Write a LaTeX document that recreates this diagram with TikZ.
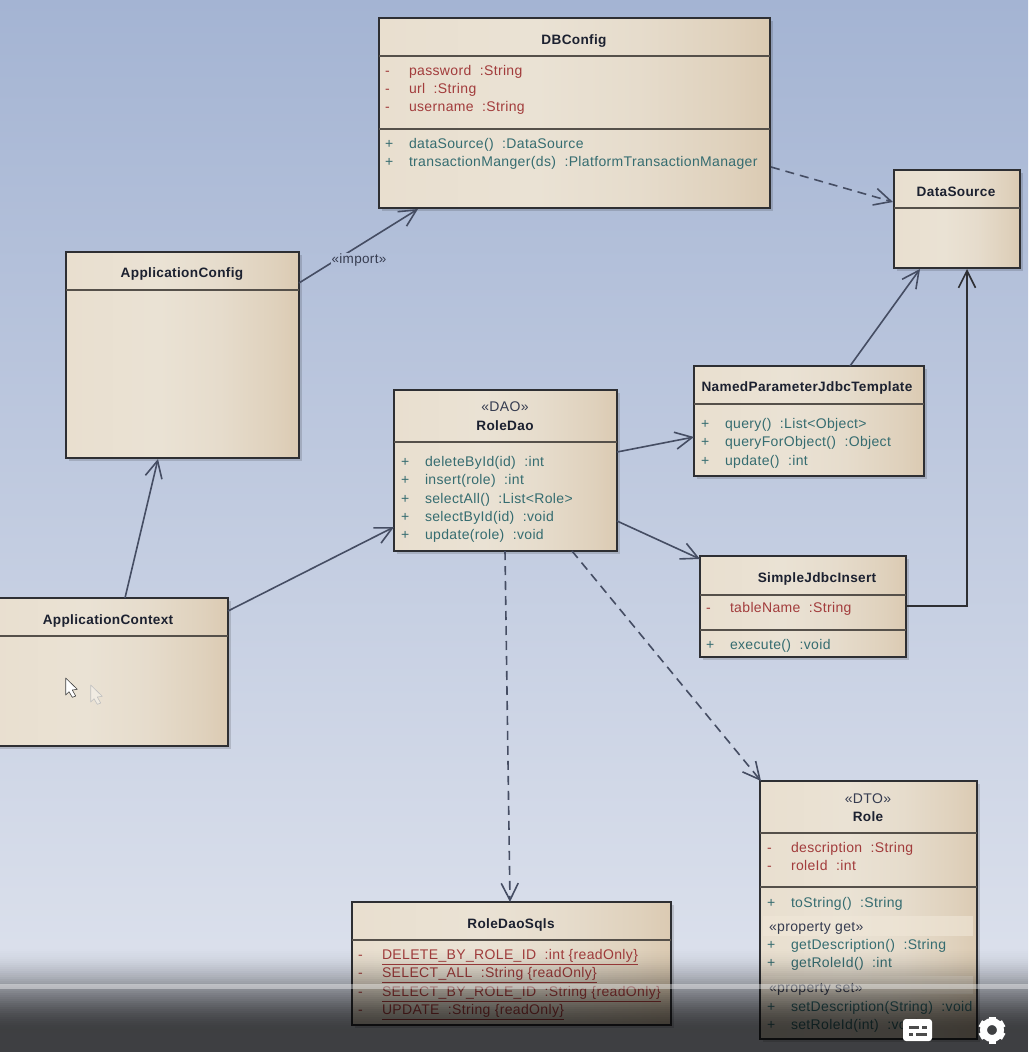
\documentclass[tikz,border=0pt]{standalone}
\usepackage{fontspec}
\setmainfont[LetterSpace=2.5]{Liberation Sans}
\usetikzlibrary{arrows.meta,calc}
\definecolor{bgtop}{HTML}{A4B4D3}
\definecolor{bgbot}{HTML}{E0E4EE}
\definecolor{bgmid}{HTML}{B2BFD9}
\definecolor{boxline}{HTML}{2E2F33}
\definecolor{sepline}{HTML}{55504A}
\definecolor{conn}{HTML}{454D63}
\definecolor{attrc}{HTML}{A23C3C}
\definecolor{methc}{HTML}{356C70}
\definecolor{titlec}{HTML}{1C2130}
\definecolor{stereoc}{HTML}{363C50}
\definecolor{bandc}{HTML}{F0E7D8}
\definecolor{shA}{HTML}{E9DFCF}
\definecolor{shB}{HTML}{EAE2D4}
\definecolor{shC}{HTML}{E6DCCC}
\definecolor{shD}{HTML}{DFD1BC}
\definecolor{shE}{HTML}{DBCAB2}
\pgfdeclarehorizontalshading{boxshade}{100bp}{%
 color(0bp)=(shA); color(25bp)=(shA); color(45bp)=(shB); color(58bp)=(shC); color(70bp)=(shD); color(75bp)=(shE); color(100bp)=(shE)}
\newcounter{rowc}
\tikzset{
 x=1pt,y=-1pt,
 umlbox/.style={draw=boxline,line width=1.2pt,shading=boxshade,anchor=north west,outer sep=0pt,inner sep=0pt},
 boxshadow/.style={fill=black,opacity=.14},
 sepstyle/.style={draw=sepline,line width=1.2pt},
 rowtext/.style={anchor=base west,inner sep=0pt,outer sep=0pt,font=\fontsize{14}{16}\selectfont},
 titletext/.style={anchor=base,inner sep=0pt,font=\fontsize{13.6}{16}\selectfont\bfseries,text=titlec},
 stereotext/.style={anchor=base,inner sep=0pt,font=\fontsize{14}{16}\selectfont,text=stereoc},
 solidconn/.style={draw=conn,line width=1.6pt,-{Straight Barb[length=17pt,width=17pt,line width=1.6pt]}},
 dashconn/.style={solidconn,dash pattern=on 9pt off 6pt},
 elbowconn/.style={solidconn,draw=boxline,line width=1.3pt},
}
\newcommand{\umlclass}[5]{%
 \fill[boxshadow] ({#2+3},{#3+3}) rectangle ({#4+3},{#5+3});
 \node[umlbox,minimum width={(#4-#2)*1pt},minimum height={(#5-#3)*1pt}] (#1) at (#2,#3) {};}
\newcommand{\umlsep}[2]{\draw[sepstyle] (#1.west |- 0,#2) -- (#1.east |- 0,#2);}
\newcommand{\umlrow}[6]{% colour, signx, textx, y, sign, text
 \stepcounter{rowc}%
 \node[rowtext,text=#1] (s\arabic{rowc}) at (#2,{#4+4.5}) {#5};
 \node[rowtext,text=#1] (t\arabic{rowc}) at (#3,{#4+4.5}) {#6};}
\newcommand{\umlplain}[4]{% colour, x, y, text
 \stepcounter{rowc}%
 \node[rowtext,text=#1] (t\arabic{rowc}) at (#2,{#3+4.5}) {#4};}
\newcommand{\umltitle}[4]{\node[titletext] (#1) at (#2,{#3+4.5}) {#4};}
\newcommand{\umlstereo}[4]{\node[stereotext] (#1) at (#2,{#3+4.5}) {#4};}
\newcommand{\ul}[1]{\underline{#1}}
\begin{document}
\begin{tikzpicture}
\useasboundingbox (0,0) rectangle (1028,1052);
\clip (0,0) rectangle (1028,1052);
\fill[top color=bgtop,bottom color=bgbot] (0,0) rectangle (1028,1052);

% boxes
\umlclass{dbconfig}{379}{18}{770}{208}
\umlsep{dbconfig}{56}\umlsep{dbconfig}{129}
\umltitle{dbconfigT}{574}{40}{DBConfig}
\umlrow{attrc}{385}{409}{71}{-}{password\ \ :String}
\umlrow{attrc}{385}{409}{89}{-}{url\ \ :String}
\umlrow{attrc}{385}{409}{107}{-}{username\ \ :String}
\umlrow{methc}{385}{409}{144}{+}{dataSource()\ \ :DataSource}
\umlrow{methc}{385}{409}{162}{+}{transactionManger(ds)\ \ :PlatformTransactionManager}

\umlclass{datasource}{894}{170}{1020}{268}
\umlsep{datasource}{208}
\umltitle{datasourceT}{956}{192}{DataSource}

\umlclass{appconfig}{66}{252}{299}{458}
\umlsep{appconfig}{290}
\umltitle{appconfigT}{182}{273}{ApplicationConfig}

\umlclass{roledao}{394}{390}{617}{551}
\umlsep{roledao}{442}
\umlstereo{roledaoS}{505}{407}{«DAO»}
\umltitle{roledaoT}{505}{426}{RoleDao}
\umlrow{methc}{401}{425}{462}{+}{deleteById(id)\ \ :int}
\umlrow{methc}{401}{425}{480}{+}{insert(role)\ \ :int}
\umlrow{methc}{401}{425}{499}{+}{selectAll()\ \ :List<Role>}
\umlrow{methc}{401}{425}{517}{+}{selectById(id)\ \ :void}
\umlrow{methc}{401}{425}{535}{+}{update(role)\ \ :void}

\umlclass{named}{694}{366}{924}{476}
\umlsep{named}{404}
\umltitle{namedT}{807}{387}{NamedParameterJdbcTemplate}
\umlrow{methc}{701}{725}{424}{+}{query()\ \ :List<Object>}
\umlrow{methc}{701}{725}{442}{+}{queryForObject()\ \ :Object}
\umlrow{methc}{701}{725}{461}{+}{update()\ \ :int}

\umlclass{simple}{700}{556}{906}{657}
\umlsep{simple}{595}\umlsep{simple}{630}
\umltitle{simpleT}{817}{578}{SimpleJdbcInsert}
\umlrow{attrc}{706}{730}{608}{-}{tableName\ \ :String}
\umlrow{methc}{706}{730}{645}{+}{execute()\ \ :void}

\umlclass{appcontext}{-10}{598}{228}{746}
\umlsep{appcontext}{636}
\umltitle{appcontextT}{108}{620}{ApplicationContext}

\umlclass{role}{760}{781}{977}{1039}
\umlsep{role}{833}\umlsep{role}{887}
\fill[bandc,opacity=.6] (763,916) rectangle (973,936);
\fill[bandc,opacity=.6] (763,976) rectangle (973,994);
\umlstereo{roleS}{868}{799}{«DTO»}
\umltitle{roleT}{868}{817}{Role}
\umlrow{attrc}{767}{791}{848}{-}{description\ \ :String}
\umlrow{attrc}{767}{791}{866}{-}{roleId\ \ :int}
\umlrow{methc}{767}{791}{903}{+}{toString()\ \ :String}
\umlplain{stereoc}{769}{927}{«property get»}
\umlrow{methc}{767}{791}{945}{+}{getDescription()\ \ :String}
\umlrow{methc}{767}{791}{963}{+}{getRoleId()\ \ :int}
\umlplain{stereoc}{769}{988}{«property set»}
\umlrow{methc}{767}{791}{1007}{+}{setDescription(String)\ \ :void}
\umlrow{methc}{767}{791}{1025}{+}{setRoleId(int)\ \ :void}

\umlclass{sqls}{352}{902}{671}{1025}
\umlsep{sqls}{940}
\umltitle{sqlsT}{511}{924}{RoleDaoSqls}
\umlrow{attrc}{358}{382}{955}{-}{\ul{DELETE\_BY\_ROLE\_ID\ \ :int \{readOnly\}}}
\umlrow{attrc}{358}{382}{973}{-}{\ul{SELECT\_ALL\ \ :String \{readOnly\}}}
\umlrow{attrc}{358}{382}{992}{-}{\ul{SELECT\_BY\_ROLE\_ID\ \ :String \{readOnly\}}}
\umlrow{attrc}{358}{382}{1010}{-}{\ul{UPDATE\ \ :String \{readOnly\}}}

% connectors
\draw[solidconn] ([shift={(0,31)}]appconfig.north east) -- ([shift={(39,1)}]dbconfig.south west);
\node[fill=bgmid,inner sep=1pt,font=\fontsize{13.5}{15}\selectfont,text=stereoc] (importlabel) at (359,260) {«import»};
\draw[dashconn] ([shift={(1,149)}]dbconfig.north east) -- ([shift={(-1,32)}]datasource.north west);
\draw[solidconn] ([shift={(156,0)}]named.north west) -- ([shift={(26,1)}]datasource.south west);
\draw[solidconn] ([shift={(0,62)}]roledao.north east) -- ([shift={(0,71)}]named.north west);
\draw[solidconn] ([shift={(0,131)}]roledao.north east) -- ([shift={(0,3)}]simple.north west);
\draw[elbowconn] ([shift={(0,50)}]simple.north east) -| ([shift={(73,1)}]datasource.south west);
\draw[solidconn] ([shift={(135,0)}]appcontext.north west) -- ([shift={(92,1)}]appconfig.south west);
\draw[solidconn] ([shift={(0,13)}]appcontext.north east) -- ([shift={(0,137)}]roledao.north west);
\draw[dashconn] ([shift={(111,0)}]roledao.south west) -- ([shift={(158,0)}]sqls.north west);
\draw[dashconn] ([shift={(178,0)}]roledao.south west) -- ([shift={(1,0)}]role.north west);

% mouse cursors
\draw[fill=white,draw=black!75,line width=.6pt,line join=round] (65.7,678) -- (65.7,695) -- (69,691.7) -- (72.3,697.3) -- (75.7,696) -- (72.3,690) -- (77.3,689.3) -- cycle;
\draw[fill=white,fill opacity=.35,draw=black!25,line width=.6pt,line join=round] (90.7,685) -- (90.7,702) -- (94,698.7) -- (97.3,704.3) -- (100.7,703) -- (97.3,697) -- (102.3,696.3) -- cycle;

% video control overlay
\foreach \yy in {945,947,...,1051}{
 \pgfmathsetmacro{\tval}{min((\yy-945)/85,1)}
 \pgfmathsetmacro{\opv}{.72*(3*\tval*\tval-2*\tval*\tval*\tval)}
 \fill[black,opacity=\opv] (0,\yy) rectangle (1028,\yy+2);
}
\fill[white,opacity=.38] (0,984) rectangle (1028,989);

% player icons
\fill[white,rounded corners=3pt] (903,1019) rectangle (932,1041);
\fill[black!70] (909,1026) rectangle (919,1029);
\fill[black!70] (922,1026) rectangle (927,1029);
\fill[black!70] (909,1033) rectangle (913,1036);
\fill[black!70] (916,1033) rectangle (927,1036);
\draw[white,line width=7pt] (992,1030) circle [radius=8.5];
\foreach \aa in {30,90,...,330}{
 \draw[white,line width=7pt] (992,1030) ++(\aa:9) -- ++(\aa:4.5);
}
\end{tikzpicture}
\end{document}
